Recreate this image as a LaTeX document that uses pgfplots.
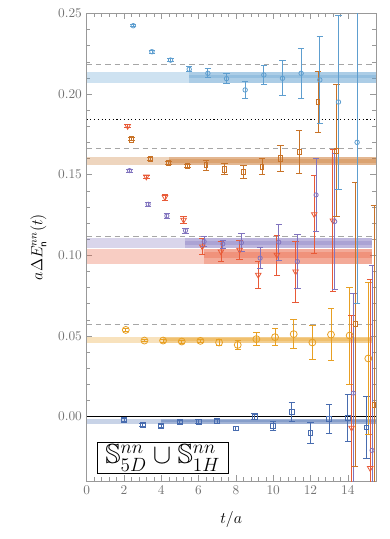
\documentclass[border=0pt]{standalone}
\usepackage{amsmath,amssymb}
\usepackage{xcolor}
\usepackage{pgfplots}
\pgfplotsset{compat=1.18}

\definecolor{cLB}{RGB}{94,158,207}
\definecolor{cBR}{RGB}{200,115,40}
\definecolor{cPU}{RGB}{128,115,190}
\definecolor{cRD}{RGB}{232,90,55}
\definecolor{cYE}{RGB}{232,160,35}
\definecolor{cDB}{RGB}{72,108,175}

\pgfplotsset{
  errs/.style={error bars/.cd, y dir=both, y explicit,
    error bar style={line width=0.6pt},
    error mark options={rotate=90, mark size=2.4pt, line width=0.6pt}},
  band/.style={draw=none, fill=#1, fill opacity=0.3, forget plot},
  hline/.style={gray!70, line width=0.8pt, dash pattern=on 4pt off 3pt, forget plot},
}

\begin{document}
\begin{tikzpicture}
\begin{axis}[scale only axis, width=217pt, height=351pt,
xmin=0, xmax=15.5, ymin=-0.04, ymax=0.25,
xtick={0,2,...,14}, ytick={0,0.05,...,0.25},
minor x tick num=4, minor y tick num=4,
tick align=inside, axis line style={gray!80},
tick style={gray!80},
ticklabel style={gray!90!black},
yticklabel style={/pgf/number format/.cd, fixed, fixed zerofill, precision=2},
xlabel={\large $t/a$}, ylabel={\large $a\Delta E^{nn}_{\mathsf{n}}(t)$},
xlabel style={yshift=-6pt}, ylabel style={yshift=2pt},
clip=true]

% fit bands
\addplot[band=cLB] coordinates {(0,0.2065) (15.5,0.2065) (15.5,0.2137) (0,0.2137)} -- cycle;
\addplot[band=cLB] coordinates {(5.5,0.2065) (15.5,0.2065) (15.5,0.2137) (5.5,0.2137)} -- cycle;
\addplot[band=cLB] coordinates {(5.5,0.2098) (15.5,0.2098) (15.5,0.2118) (5.5,0.2118)} -- cycle;

\addplot[band=cBR] coordinates {(0,0.1557) (15.5,0.1557) (15.5,0.1609) (0,0.1609)} -- cycle;
\addplot[band=cBR] coordinates {(4.4,0.1557) (15.5,0.1557) (15.5,0.1609) (4.4,0.1609)} -- cycle;
\addplot[band=cBR] coordinates {(4.4,0.1574) (15.5,0.1574) (15.5,0.1594) (4.4,0.1594)} -- cycle;

\addplot[band=cPU] coordinates {(0,0.1045) (15.3,0.1045) (15.3,0.1107) (0,0.1107)} -- cycle;
\addplot[band=cPU] coordinates {(5.3,0.1045) (15.3,0.1045) (15.3,0.1107) (5.3,0.1107)} -- cycle;
\addplot[band=cPU] coordinates {(5.3,0.1065) (15.3,0.1065) (15.3,0.1090) (5.3,0.1090)} -- cycle;

\addplot[band=cRD] coordinates {(0,0.0948) (15.3,0.0948) (15.3,0.1038) (0,0.1038)} -- cycle;
\addplot[band=cRD] coordinates {(6.3,0.0948) (15.3,0.0948) (15.3,0.1038) (6.3,0.1038)} -- cycle;
\addplot[band=cRD] coordinates {(6.3,0.0982) (15.3,0.0982) (15.3,0.1020) (6.3,0.1020)} -- cycle;

\addplot[band=cYE] coordinates {(0,0.0455) (15.3,0.0455) (15.3,0.0492) (0,0.0492)} -- cycle;
\addplot[band=cYE] coordinates {(4.1,0.0455) (15.3,0.0455) (15.3,0.0492) (4.1,0.0492)} -- cycle;
\addplot[band=cYE] coordinates {(4.1,0.0467) (15.3,0.0467) (15.3,0.0484) (4.1,0.0484)} -- cycle;

\addplot[band=cDB] coordinates {(0,-0.0045) (15.5,-0.0045) (15.5,-0.0016) (0,-0.0016)} -- cycle;
\addplot[band=cDB] coordinates {(4.0,-0.0045) (15.5,-0.0045) (15.5,-0.0016) (4.0,-0.0016)} -- cycle;
\addplot[band=cDB] coordinates {(4.0,-0.0037) (15.5,-0.0037) (15.5,-0.0022) (4.0,-0.0022)} -- cycle;

% reference levels
\addplot[hline] coordinates {(0,0.2181) (15.5,0.2181)};
\addplot[hline] coordinates {(0,0.1659) (15.5,0.1659)};
\addplot[hline] coordinates {(0,0.1118) (15.5,0.1118)};
\addplot[hline] coordinates {(0,0.0569) (15.5,0.0569)};
\addplot[black, line width=0.8pt, dotted, forget plot] coordinates {(0,0.1839) (15.5,0.1839)};
\addplot[black, line width=0.8pt, forget plot] coordinates {(0,0) (15.5,0)};

% data
\addplot[only marks, cDB, mark=square, mark size=1.8pt, mark options={line width=0.6pt}, errs] coordinates {
(2,-0.0020) +- (0,0.0008) (3,-0.0053) +- (0,0.0008) (4,-0.0058) +- (0,0.0009)
(5,-0.0033) +- (0,0.0010) (6,-0.0031) +- (0,0.0011) (7,-0.0029) +- (0,0.0012)
(8,-0.0074) +- (0,0.0015) (9,0.0000) +- (0,0.0020) (10,-0.0058) +- (0,0.0030)
(11,0.0027) +- (0,0.0059) (12,-0.0103) +- (0,0.0064) (13,-0.0014) +- (0,0.0090)
(14,-0.0010) +- (0,0.0146) (15,-0.0068) +- (0,0.0190)
};
\addplot[only marks, cYE, mark=o, mark size=2.6pt, mark options={line width=0.6pt}, errs] coordinates {
(2.1,0.0537) +- (0,0.0010) (3.1,0.0471) +- (0,0.0008) (4.1,0.0471) +- (0,0.0009)
(5.1,0.0465) +- (0,0.0010) (6.1,0.0469) +- (0,0.0012) (7.1,0.0459) +- (0,0.0018)
(8.1,0.0444) +- (0,0.0025) (9.1,0.0480) +- (0,0.0041) (10.1,0.0492) +- (0,0.0053)
(11.1,0.0511) +- (0,0.0090) (12.1,0.0459) +- (0,0.0103) (13.1,0.0508) +- (0,0.0163)
(14.1,0.0502) +- (0,0.0300) (15.1,0.0360) +- (0,0.0470)
};
\addplot[only marks, cRD, mark=triangle, mark size=2.4pt, mark options={rotate=180, line width=0.6pt}, errs] coordinates {
(2.2,0.1801) +- (0,0.0008) (3.2,0.1487) +- (0,0.0010) (4.2,0.1360) +- (0,0.0020)
(5.2,0.1219) +- (0,0.0020) (6.2,0.1054) +- (0,0.0048) (7.2,0.1023) +- (0,0.0062)
(8.2,0.1033) +- (0,0.0060) (9.2,0.0878) +- (0,0.0082) (10.2,0.1002) +- (0,0.0124)
(11.2,0.0899) +- (0,0.0189) (12.2,0.1254) +- (0,0.0240) (13.2,0.1215) +- (0,0.0440)
(14.2,-0.0070) +- (0,0.0700) (15.2,-0.0320) +- (0,0.1170)
};
\addplot[only marks, cPU, mark=o, mark size=1.6pt, mark options={line width=0.6pt}, errs] coordinates {
(2.3,0.1525) +- (0,0.0010) (3.3,0.1316) +- (0,0.0012) (4.3,0.1244) +- (0,0.0015)
(5.3,0.1153) +- (0,0.0015) (6.3,0.1085) +- (0,0.0030) (7.3,0.1070) +- (0,0.0025)
(8.3,0.1078) +- (0,0.0055) (9.3,0.0982) +- (0,0.0066) (10.3,0.1081) +- (0,0.0112)
(11.3,0.0961) +- (0,0.0166) (12.3,0.1374) +- (0,0.0228) (13.3,0.1209) +- (0,0.0420)
(14.3,0.0145) +- (0,0.0620) (15.3,-0.0210) +- (0,0.1150)
};
\addplot[only marks, cBR, mark=square, mark size=2.0pt, mark options={xscale=0.7, line width=0.6pt}, errs] coordinates {
(2.4,0.1719) +- (0,0.0010) (3.4,0.1597) +- (0,0.0010) (4.4,0.1574) +- (0,0.0010)
(5.4,0.1554) +- (0,0.0012) (6.4,0.1560) +- (0,0.0031) (7.4,0.1533) +- (0,0.0034)
(8.4,0.1516) +- (0,0.0040) (9.4,0.1549) +- (0,0.0050) (10.4,0.1601) +- (0,0.0083)
(11.4,0.1639) +- (0,0.0132) (12.4,0.1950) +- (0,0.0190) (13.4,0.1649) +- (0,0.0410)
(14.4,0.0573) +- (0,0.0880) (15.4,0.0070) +- (0,0.1240)
};
\addplot[only marks, cLB, mark=o, mark size=1.7pt, mark options={line width=0.6pt}, errs] coordinates {
(2.5,0.2423) +- (0,0.0007) (3.5,0.2262) +- (0,0.0008) (4.5,0.2210) +- (0,0.0010)
(5.5,0.2153) +- (0,0.0015) (6.5,0.2128) +- (0,0.0028) (7.5,0.2095) +- (0,0.0030)
(8.5,0.2025) +- (0,0.0055) (9.5,0.2118) +- (0,0.0057) (10.5,0.2097) +- (0,0.0108)
(11.5,0.2128) +- (0,0.0153) (12.5,0.2087) +- (0,0.0270) (13.5,0.1950) +- (0,0.0540)
(14.5,0.1700) +- (0,0.1000)
};

\node[draw=black, fill=white, anchor=south west, inner xsep=6pt, inner ysep=2pt, line width=0.6pt]
  at (axis cs:0.55,-0.0358) {\huge $\mathbb{S}^{nn}_{5D}\cup\mathbb{S}^{nn}_{1H}$};
\end{axis}
\pgfresetboundingbox
\path (current axis.south west) ++(-65pt,-43.5pt) coordinate (bbA);
\path (current axis.north east) ++(10.5pt,10pt) coordinate (bbB);
\path (bbA) rectangle (bbB);
\end{tikzpicture}
\end{document}
